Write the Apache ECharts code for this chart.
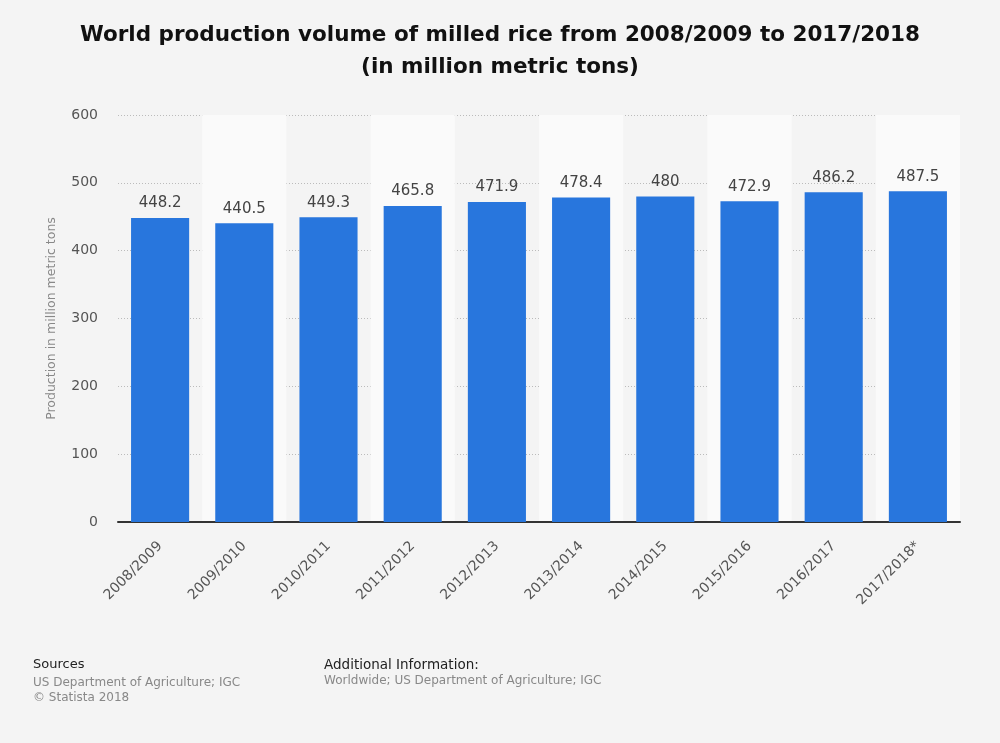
<!DOCTYPE html>
<html><head><meta charset="utf-8">
<script src="https://cdn.jsdelivr.net/npm/echarts@6/dist/echarts.min.js"></script>
<style>html,body{margin:0;padding:0;background:#f4f4f4;}#c{width:1000px;height:743px;}</style>
</head><body><div id="c"></div>
<script>
const categories = ['2008/2009','2009/2010','2010/2011','2011/2012','2012/2013','2013/2014','2014/2015','2015/2016','2016/2017','2017/2018*'];
const production = [448.2,440.5,449.3,465.8,471.9,478.4,480,472.9,486.2,487.5];
const yTicks = [0,100,200,300,400,500,600];

const chart = echarts.init(document.getElementById('c'));
const F = 'DejaVu Sans, sans-serif';
chart.setOption({
  backgroundColor: '#f4f4f4',
  animation: false,
  title: [
    {text: 'World production volume of milled rice from 2008/2009 to 2017/2018\n(in million metric tons)', left: 'center', top: 19, padding: 0,
     textStyle: {fontFamily: F, fontSize: 21.5, fontWeight: 'bold', color: '#111', lineHeight: 32}},
    {text: 'Sources', left: 33, top: 658, padding: 0, textStyle: {fontFamily: F, fontSize: 13, fontWeight: 'normal', color: '#222'}},
    {text: 'US Department of Agriculture; IGC\n© Statista 2018', left: 33, top: 675, padding: 0, textStyle: {fontFamily: F, fontSize: 12, fontWeight: 'normal', color: '#888', lineHeight: 15}},
    {text: 'Additional Information:', left: 324, top: 658, padding: 0, textStyle: {fontFamily: F, fontSize: 13.5, fontWeight: 'normal', color: '#222'}},
    {text: 'Worldwide; US Department of Agriculture; IGC', left: 324, top: 675, padding: 0, textStyle: {fontFamily: F, fontSize: 12, fontWeight: 'normal', color: '#888'}}
  ],
  grid: {left: 118, right: 40, top: 115, bottom: 221},
  xAxis: {
    type: 'category', data: categories,
    axisLine: {lineStyle: {color: '#333', width: 2}},
    axisTick: {show: false},
    splitArea: {show: true, areaStyle: {color: ['rgba(0,0,0,0)', '#fafafa']}},
    axisLabel: {rotate: 45, fontFamily: F, fontSize: 14, color: '#555', margin: 22, interval: 0}
  },
  yAxis: {
    type: 'value', min: 0, max: 600, interval: 100,
    name: 'Production in million metric tons', nameLocation: 'middle', nameGap: 60,
    nameTextStyle: {fontFamily: F, fontSize: 12.5, color: '#888'},
    axisLine: {show: false}, axisTick: {show: false},
    axisLabel: {fontFamily: F, fontSize: 14, color: '#555', margin: 20,
      formatter: v => yTicks.includes(v) ? String(v) : ''},
    splitLine: {lineStyle: {color: '#bbbbbb', type: [1, 2]}}
  },
  series: [{
    type: 'bar', data: production, barCategoryGap: '31%',
    itemStyle: {color: '#2876dd'},
    label: {show: true, position: 'top', distance: 7, fontFamily: F, fontSize: 15, color: '#444'}
  }]
});
</script></body></html>
